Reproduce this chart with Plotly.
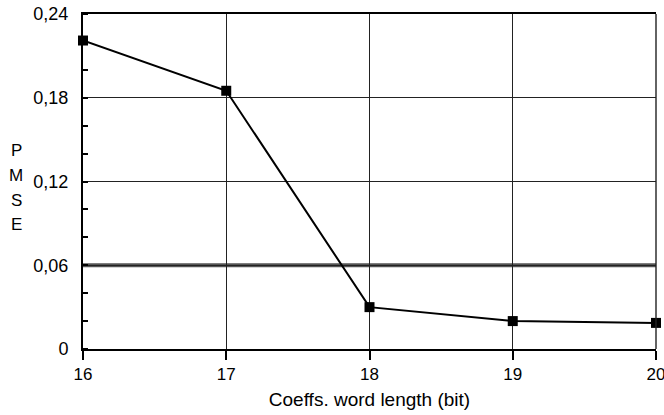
import plotly.graph_objects as go

word_length = [16, 17, 18, 19, 20]
pmse = [0.221, 0.185, 0.030, 0.020, 0.0187]
y_tickvals = [0, 0.06, 0.12, 0.18, 0.24]
y_ticktext = ["0", "0,06", "0,12", "0,18", "0,24"]
x_tickvals = [16, 17, 18, 19, 20]
y_title_letters = ["P", "M", "S", "E"]

FONT = "Liberation Sans, Arial, Helvetica, sans-serif"

fig = go.Figure()
fig.add_trace(go.Scatter(
    x=word_length, y=pmse, mode="lines+markers",
    line=dict(color="black", width=2),
    marker=dict(symbol="square", size=10, color="black"),
    showlegend=False, cliponaxis=False,
))

# Margins: plot area x 83..656, y 14..349
W, H = 664, 415
L, R, T, B = 83, 8, 14, 66
plot_h = H - T - B

fig.update_layout(
    width=W, height=H,
    margin=dict(l=L, r=R, t=T, b=B, autoexpand=False),
    paper_bgcolor="white", plot_bgcolor="white",
    font=dict(family=FONT, size=17, color="black"),
    xaxis=dict(
        range=[16, 20], tickvals=x_tickvals, automargin=False,
        ticklabeloverflow="allow",
        showgrid=True, gridcolor="#222", gridwidth=1.4,
        showline=True, linecolor="black", linewidth=2, mirror=True,
        ticks="outside", ticklen=9, tickwidth=2, tickcolor="black",
        zeroline=False,
        title=dict(text="Coeffs. word length (bit)", font=dict(size=19), standoff=9),
    ),
    yaxis=dict(
        range=[0, 0.24], tickvals=y_tickvals, ticktext=y_ticktext, automargin=False,
        showgrid=True, gridcolor="#222", gridwidth=1.4,
        showline=True, linecolor="black", linewidth=2,
        ticks="", ticklabelstandoff=9, zeroline=False,
        tickfont=dict(size=18),
        minor=dict(dtick=0.02, ticks="inside", ticklen=5, tickwidth=2,
                   tickcolor="black", showgrid=False),
    ),
)

# thick gray line at 0.06
fig.add_shape(type="line", xref="paper", yref="y", x0=0, x1=1, y0=0.06, y1=0.06,
              line=dict(color="#555", width=4), layer="below")
# right border
fig.add_shape(type="line", xref="paper", yref="paper", x0=1, x1=1, y0=0, y1=1,
              line=dict(color="#222", width=1.4))

for i, letter in enumerate(y_title_letters):
    ypix = 150 + 25 * i
    fig.add_annotation(
        text=letter, xref="paper", yref="paper",
        x=(16 - L) / (W - L - R), y=(H - B - ypix) / plot_h,
        showarrow=False, xanchor="center", yanchor="middle",
        font=dict(size=17),
    )

fig.write_html("out.html",
               config={"displayModeBar": False},
               post_script="document.body.style.margin='0';document.body.style.overflow='hidden';")
